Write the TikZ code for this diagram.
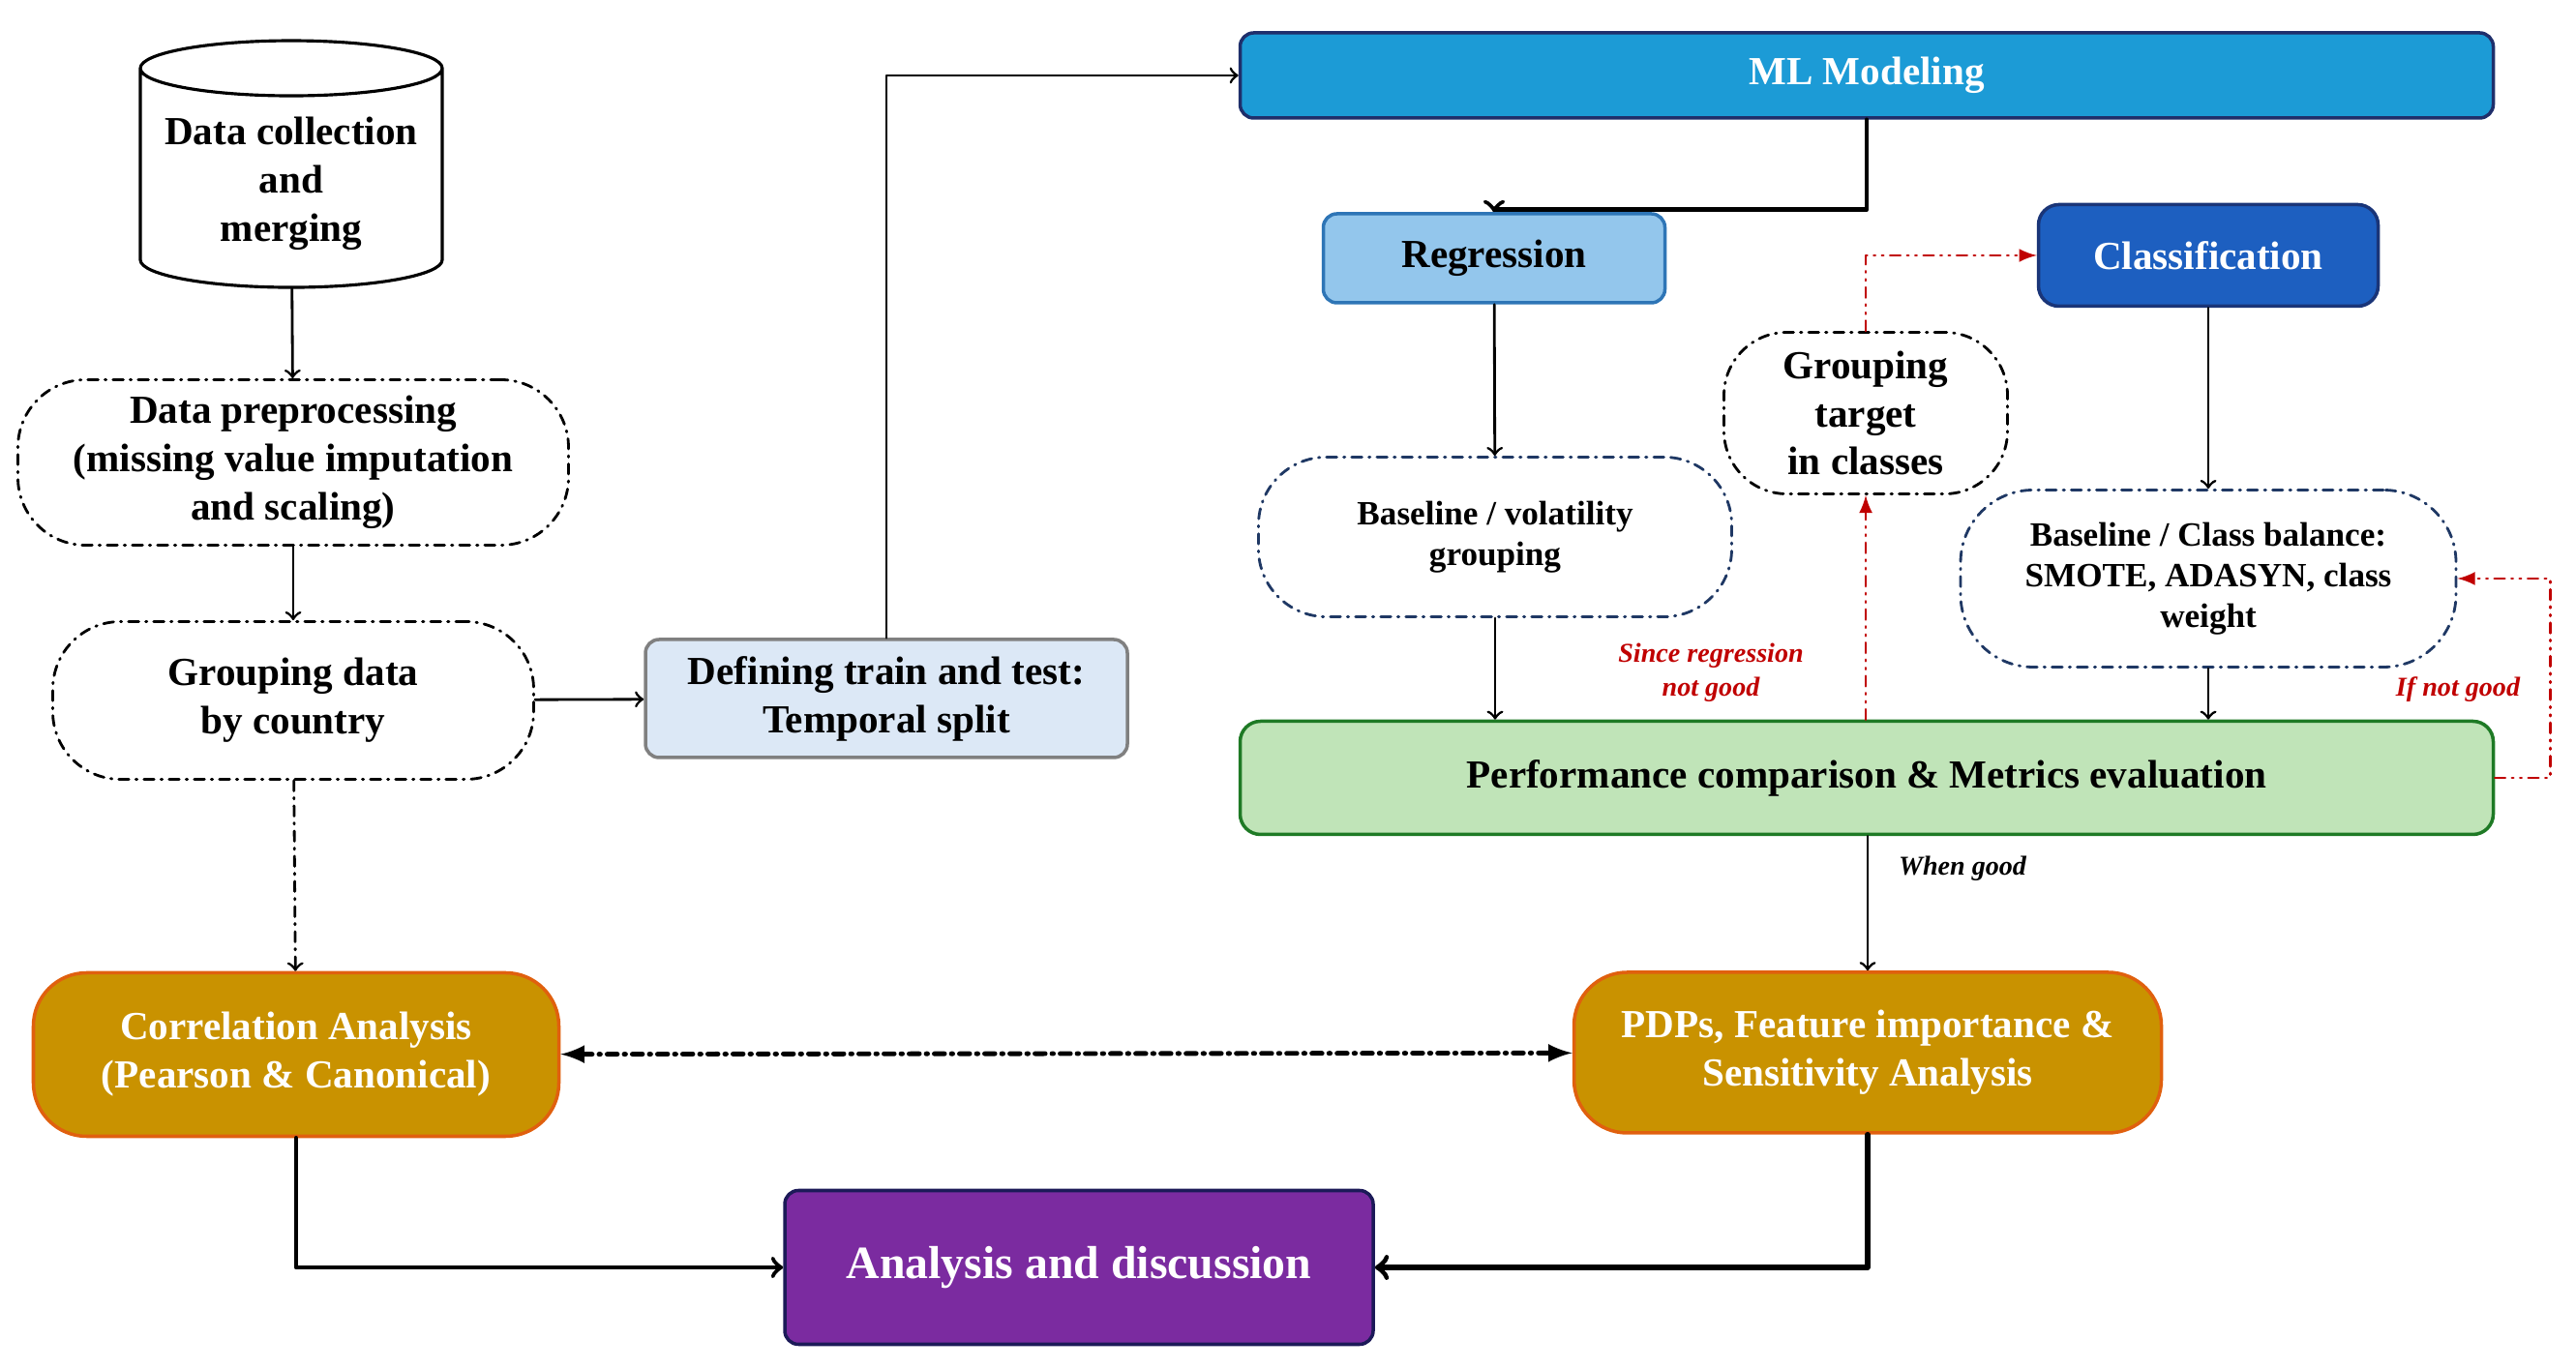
\documentclass[tikz,border=0pt]{standalone}
\usepackage{fontspec}
\setmainfont{Liberation Serif}
\usepackage{tikz}
\tikzset{>=to}
\usetikzlibrary{shapes,arrows}
\usetikzlibrary{calc}
\definecolor{mlblue}{HTML}{1C9BD6}
\definecolor{mlline}{HTML}{1F2F6B}
\definecolor{regblue}{HTML}{93C6EC}
\definecolor{regline}{HTML}{2E75B6}
\definecolor{clsblue}{HTML}{1D5FC0}
\definecolor{clsline}{HTML}{1A3578}
\definecolor{splitfill}{HTML}{DCE8F6}
\definecolor{perffill}{HTML}{C0E4B8}
\definecolor{perfline}{HTML}{1E7A25}
\definecolor{resfill}{HTML}{C99200}
\definecolor{resline}{HTML}{E0600E}
\definecolor{finfill}{HTML}{7B2BA0}
\definecolor{finline}{HTML}{1C1A58}
\definecolor{notered}{HTML}{C00000}
\definecolor{pillblue}{HTML}{1F3864}
\tikzset{
	txt/.style={align=center,font=\bfseries\fontsize{11.7}{14.2}\selectfont},
	boxed/.style={txt,rectangle,draw,line width=1pt,rounded corners=4pt},
	pillbox/.style={txt,rectangle,draw,dash dot,line width=0.8pt,rounded corners=0.7cm},
	resbox/.style={boxed,fill=resfill,draw=resline,text=white,rounded corners=0.55cm},
	redlink/.style={->,>=latex,notered,dash dot dot,line width=0.8pt},
	note/.style={font=\bfseries\itshape\fontsize{8}{10}\selectfont,align=center}
}
\begin{document}
\begin{tikzpicture}[line cap=round,line join=round,x=1.0cm,y=1.0cm]
	\useasboundingbox (0,0) rectangle (26.62,14.15);
	% left column
	\node[txt,cylinder,shape border rotate=90,aspect=0.2,draw,fill=white,line width=0.9pt,minimum width=3.12cm,minimum height=2.55cm] (collect) at (3.01,12.25) {Data collection\\and\\merging};
	\node[pillbox,minimum width=5.69cm,minimum height=1.71cm] (prep) at (3.03,9.37) {Data preprocessing\\(missing value imputation\\and scaling)};
	\node[pillbox,minimum width=4.97cm,minimum height=1.63cm] (country) at (3.03,6.91) {Grouping data\\by country};
	\node[boxed,fill=splitfill,draw=gray,minimum width=4.98cm,minimum height=1.22cm] (split) at (9.16,6.93) {Defining train and test:\\Temporal split};
	% modeling
	\node[boxed,fill=mlblue,draw=mlline,text=white,minimum width=12.95cm,minimum height=0.88cm] (ml) at (19.29,13.37) {ML Modeling};
	\node[boxed,fill=regblue,draw=regline,minimum width=3.53cm,minimum height=0.92cm] (reg) at (15.44,11.48) {Regression};
	\node[boxed,fill=clsblue,draw=clsline,text=white,minimum width=3.51cm,minimum height=1.05cm,rounded corners=6pt] (cls) at (22.82,11.51) {Classification};
	\node[pillbox,minimum width=2.93cm,minimum height=1.67cm,rounded corners=0.65cm] (target) at (19.28,9.88) {Grouping\\target\\in classes};
	\node[pillbox,draw=pillblue,font=\bfseries\fontsize{10}{12}\selectfont,minimum width=4.89cm,minimum height=1.65cm] (basereg) at (15.45,8.60) {Baseline / volatility\\grouping};
	\node[pillbox,draw=pillblue,font=\bfseries\fontsize{10}{12}\selectfont,minimum width=5.12cm,minimum height=1.83cm,rounded corners=0.75cm] (basecls) at (22.82,8.17) {Baseline / Class balance:\\SMOTE, ADASYN, class\\weight};
	\node[boxed,fill=perffill,draw=perfline,minimum width=12.95cm,minimum height=1.17cm,rounded corners=6pt] (perf) at (19.29,6.11) {Performance comparison \& Metrics evaluation};
	% results
	\node[resbox,minimum width=5.43cm,minimum height=1.69cm] (corr) at (3.06,3.25) {Correlation Analysis\\(Pearson \& Canonical)};
	\node[resbox,minimum width=6.07cm,minimum height=1.66cm] (pdp) at (19.30,3.27) {PDPs, Feature importance \&\\Sensitivity Analysis};
	\node[boxed,fill=finfill,draw=finline,text=white,font=\bfseries\fontsize{13.6}{16}\selectfont,minimum width=6.08cm,minimum height=1.59cm] (final) at (11.15,1.05) {Analysis and discussion};
	% connectors
	\draw[->,line width=0.8pt] (collect) -- (prep);
	\draw[->,line width=0.8pt] (prep) -- (country);
	\draw[->,line width=0.8pt] (country) -- (split);
	\draw[->,line width=0.8pt] (split.north) |- (ml.west);
	\draw[->,line width=1.3pt] (ml.south) -- ++(0,-0.93) -| (reg.north);
	\draw[->,line width=0.8pt] (reg) -- (basereg);
	\draw[->,line width=0.8pt] (basereg.south) -- (basereg.south |- perf.north);
	\draw[->,line width=0.8pt] (cls) -- (basecls);
	\draw[->,line width=0.8pt] (basecls) -- (basecls.south |- perf.north);
	\draw[redlink] (perf.north -| target.south) -- (target.south);
	\draw[redlink] (target.north) |- (cls.west);
	\draw[redlink] (perf.east) -- ++(0.57,0) |- (basecls.east);
	\draw[->,dash dot,line width=0.8pt] (country) -- (corr);
	\draw[<->,>=latex,dash dot,line width=1.4pt] (corr) -- (pdp);
	\draw[->,line width=0.8pt] (perf.south -| pdp.north) -- (pdp.north);
	\draw[->,line width=1.3pt] (corr.south) |- (final.west);
	\draw[->,line width=1.6pt] (pdp.south) |- (final.east);
	% labels
	\node[note,notered] (since) at (17.68,7.20) {Since regression\\not good};
	\node[note,notered] (ifnot) at (25.40,7.02) {If not good};
	\node[note] (whengood) at (20.28,5.17) {When good};
\end{tikzpicture}
\end{document}
